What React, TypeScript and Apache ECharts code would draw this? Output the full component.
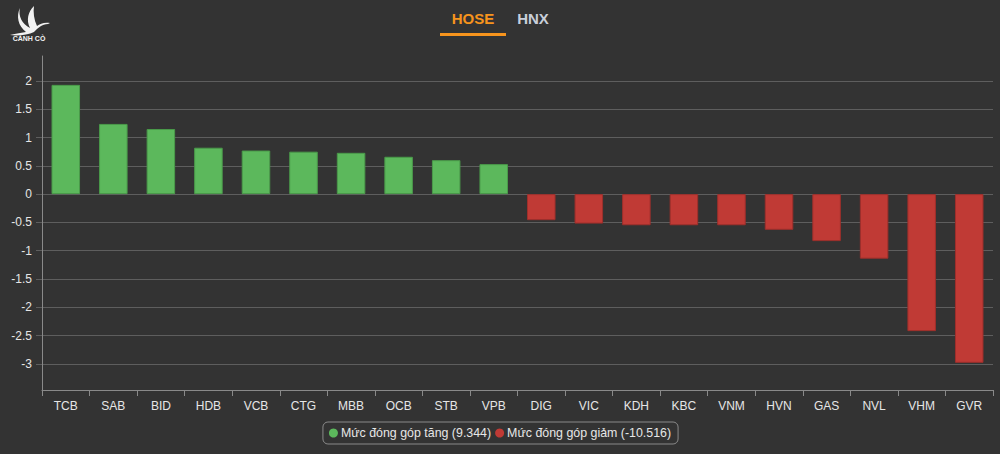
import React, { useEffect, useRef } from "react";
import * as echarts from "echarts";

const categories = ["TCB","SAB","BID","HDB","VCB","CTG","MBB","OCB","STB","VPB","DIG","VIC","KDH","KBC","VNM","HVN","GAS","NVL","VHM","GVR"];
const upValues = [1.93,1.24,1.15,0.82,0.77,0.75,0.73,0.66,0.60,0.53,null,null,null,null,null,null,null,null,null,null];
const downValues = [null,null,null,null,null,null,null,null,null,null,-0.46,-0.52,-0.55,-0.55,-0.55,-0.63,-0.83,-1.14,-2.42,-2.98];
const yTicks = [-3,-2.5,-2,-1.5,-1,-0.5,0,0.5,1,1.5,2];
const upName = "Mức đóng góp tăng (9.344)";
const downName = "Mức đóng góp giảm (-10.516)";
const tabs = ["HOSE", "HNX"];

const birdPath = "M30 4 C24 10 22 18 26 26 C18 22 14 14 16 6 C12 14 14 24 22 30 C16 31 10 32 6 33 C14 34 24 33 30 30 C34 26 38 22 44 22 L46 21 C40 20 36 22 33 24 C30 18 29 10 30 4 Z";

export default function App() {
  const ref = useRef<HTMLDivElement>(null);
  useEffect(() => {
    if (!ref.current) return;
    try {
      echarts.graphic.registerShape("logo", echarts.graphic.extendPath(birdPath, {}));
    } catch (e) {}
    const chart = echarts.init(ref.current, null, { renderer: "svg" });
    const axisLabelColor = "#e6e6e6";
    const gridColor = "#5e5e5e";
    chart.setOption({
      animation: false,
      backgroundColor: "#333333",
      textStyle: { fontFamily: "Liberation Sans, Arial, sans-serif" },
      grid: { left: 42, right: 7, top: 56, bottom: 64, containLabel: false },
      legend: {
        data: [
          { name: upName, icon: "circle" },
          { name: downName, icon: "circle" },
        ],
        left: "center",
        top: 422,
        itemWidth: 9,
        itemHeight: 9,
        itemGap: 4,
        padding: [5, 7, 5, 6],
        borderColor: "#8a8a8a",
        borderWidth: 1,
        borderRadius: 5,
        itemStyle: { borderWidth: 0 },
        textStyle: { color: "#e6e6e6", fontSize: 12.4, padding: [0, 0, 0, -2] },
      },
      xAxis: {
        type: "category",
        data: categories,
        axisLine: { onZero: false, lineStyle: { color: "#8a8a8a", width: 1 } },
        axisTick: { show: true, alignWithLabel: false, length: 6, lineStyle: { color: "#8a8a8a" } },
        axisLabel: { color: axisLabelColor, fontSize: 12, margin: 10 },
        splitLine: { show: false },
      },
      yAxis: {
        type: "value",
        min: -3.46,
        max: 2.44,
        axisLine: { show: true, lineStyle: { color: "#8a8a8a" } },
        axisTick: { show: true, length: 6, customValues: yTicks, lineStyle: { color: gridColor } },
        axisLabel: { color: axisLabelColor, fontSize: 12, margin: 10, customValues: yTicks },
        splitLine: { show: true, lineStyle: { color: gridColor, width: 1 } },
      },
      series: [
        {
          name: upName,
          type: "bar",
          data: upValues,
          barWidth: "60%",
          barGap: "-100%",
          itemStyle: { color: "#5cb85c", borderColor: "#4a9a4a", borderWidth: 1 },
        },
        {
          name: downName,
          type: "bar",
          data: downValues,
          barWidth: "60%",
          barGap: "-100%",
          itemStyle: { color: "#c03a35", borderColor: "#9e2f2b", borderWidth: 1 },
        },
      ],
      graphic: [
        {
          type: "logo",
          x: 4,
          y: 2,
          scaleX: 1.0,
          scaleY: 1.0,
          style: { fill: "#f2f2f2" },
        },
        {
          type: "text",
          x: 29,
          y: 35,
          style: { text: "CÁNH CÒ", fill: "#f2f2f2", font: "bold 7px Liberation Sans", textAlign: "center" },
        },
        {
          type: "text",
          x: 473,
          y: 11,
          style: { text: tabs[0], fill: "#f7941d", font: "bold 15px Liberation Sans", textAlign: "center" },
        },
        {
          type: "rect",
          shape: { x: 440, y: 33, width: 66, height: 3 },
          style: { fill: "#f7941d" },
        },
        {
          type: "text",
          x: 533,
          y: 11,
          style: { text: tabs[1], fill: "#c9cfda", font: "bold 15px Liberation Sans", textAlign: "center" },
        },
      ],
    });
    return () => chart.dispose();
  }, []);
  return <div ref={ref} style={{ width: 1000, height: 454, position: "absolute", left: 0, top: 0 }} />;
}
